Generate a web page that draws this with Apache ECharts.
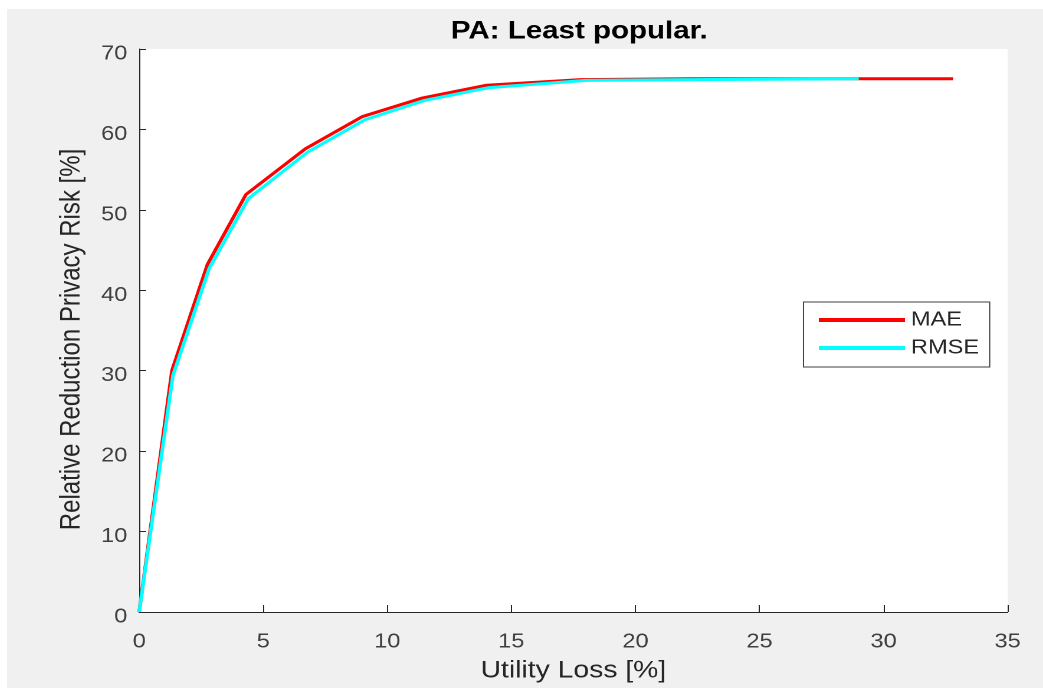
<!DOCTYPE html>
<html>
<head>
<meta charset="utf-8">
<script src="https://cdn.jsdelivr.net/npm/echarts@6/dist/echarts.min.js"></script>
<style>
  html, body { margin: 0; padding: 0; background: #fff; overflow: hidden; }
  /* the reference figure is stretched sideways, so the chart is too */
  #chart {
    position: absolute; left: 7px; top: 9px; width: 878px; height: 679px;
    transform: scaleX(1.18); transform-origin: 0 0;
  }
</style>
</head>
<body>
<div id="chart"></div>
<script>
// utility loss [%] / relative reduction of privacy risk [%]
var maeX = [0, 1.32, 2.75, 4.3, 6.7, 9.0, 11.4, 14.0, 17.8, 22.2, 29.0, 32.8]
var maeY = [0, 30.0, 43.2, 51.9, 57.6, 61.6, 63.9, 65.5, 66.2, 66.3, 66.3, 66.3]
var rmseX = [0, 1.36, 2.82, 4.4, 6.8, 9.1, 11.5, 14.1, 18.0, 22.2, 29.0]
var rmseY = [0, 29.4, 42.7, 51.4, 57.2, 61.2, 63.6, 65.2, 66.1, 66.2, 66.3]
var xTicks = [0, 5, 10, 15, 20, 25, 30, 35]
var yTicks = [0, 10, 20, 30, 40, 50, 60, 70]

function pairs (xs, ys) {
  var out = []
  for (var i = 0; i < xs.length; i++) out.push([xs[i], ys[i]])
  return out
}

var chart = echarts.init(document.getElementById('chart'), null, { devicePixelRatio: 2 })
var axisColor = '#262626'
var labelColor = '#404040'
var font = 'Liberation Sans, Arial, sans-serif'

chart.setOption({
  backgroundColor: '#f0f0f0',
  animation: false,
  textStyle: { fontFamily: font },
  title: {
    text: 'PA: Least popular.',
    left: 480,
    top: 5,
    textAlign: 'center',
    textStyle: { fontSize: 25, fontWeight: 'bold', color: '#000', fontFamily: font }
  },
  grid: {
    left: 112,
    right: 30,
    top: 40,
    bottom: 72,
    show: true,
    backgroundColor: '#fff',
    borderWidth: 0
  },
  legend: {
    orient: 'vertical',
    left: 675,
    top: 293,
    icon: 'rect',
    itemWidth: 73,
    itemHeight: 4,
    itemGap: 8,
    padding: [8, 9, 9, 13],
    backgroundColor: '#fff',
    borderColor: '#404040',
    borderWidth: 1,
    borderRadius: 0,
    textStyle: { fontSize: 20, color: '#262626', lineHeight: 20, fontFamily: font },
    data: ['MAE', 'RMSE']
  },
  xAxis: {
    type: 'value',
    min: xTicks[0],
    max: xTicks[xTicks.length - 1],
    interval: 5,
    name: 'Utility Loss [%]',
    nameLocation: 'middle',
    nameGap: 47,
    nameTextStyle: { fontSize: 24, color: axisColor, fontFamily: font },
    axisLine: { lineStyle: { color: axisColor, width: 1 } },
    axisTick: { inside: true, length: 7, lineStyle: { color: axisColor } },
    axisLabel: { fontSize: 20, color: labelColor, margin: 20, fontFamily: font },
    splitLine: { show: false }
  },
  yAxis: {
    type: 'value',
    min: yTicks[0],
    max: yTicks[yTicks.length - 1],
    interval: 10,
    name: 'Relative Reduction Privacy Risk [%]',
    nameLocation: 'middle',
    nameGap: 45,
    nameTextStyle: { fontSize: 24, color: axisColor, fontFamily: font, padding: [0, 18, 0, 0] },
    axisLine: { show: true, lineStyle: { color: axisColor, width: 1 } },
    axisTick: { show: true, inside: true, length: 6, lineStyle: { color: axisColor } },
    axisLabel: { fontSize: 20, color: labelColor, margin: 10, verticalAlign: 'top', lineHeight: 10, fontFamily: font },
    splitLine: { show: false }
  },
  series: [
    {
      name: 'MAE',
      type: 'line',
      data: pairs(maeX, maeY),
      showSymbol: false,
      itemStyle: { color: '#ff0000' },
      lineStyle: { color: '#ff0000', width: 3 }
    },
    {
      name: 'RMSE',
      type: 'line',
      data: pairs(rmseX, rmseY),
      showSymbol: false,
      itemStyle: { color: '#00ffff' },
      lineStyle: { color: '#00ffff', width: 3 }
    }
  ]
})
</script>
</body>
</html>
